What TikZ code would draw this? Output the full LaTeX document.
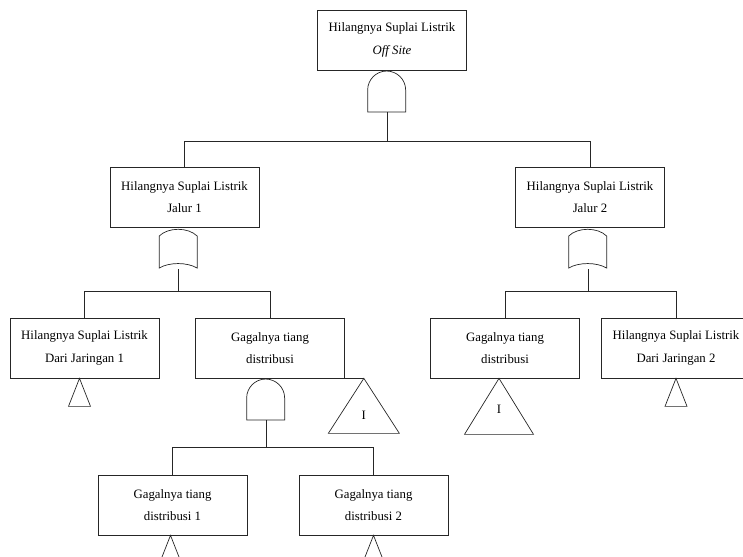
\documentclass[tikz,border=0pt]{standalone}
\usepackage{fontspec}
\setmainfont{Liberation Serif}

\newcommand{\andshape}[1]{\draw[shift={(#1.south west)}] (0,0) -- (0,22) arc[start angle=180,end angle=0,radius=19] -- (38,0) -- cycle;}
\newcommand{\orshape}[1]{\draw[shift={(#1.south west)}] (0,1) -- (0,33) .. controls (9,42) and (29,42) .. (38,33) -- (38,1) .. controls (28,7) and (10,7) .. (0,1) -- cycle;}
\newcommand{\smalltri}[1]{\draw (#1) -- ++(-11,-28) -- ++(22,0) -- cycle;}

\begin{document}
\begin{tikzpicture}[x=1pt,y=1pt,line width=0.7pt,color=black!85,
  event/.style={draw, text=black, minimum width=149pt, minimum height=60pt, inner sep=0pt, align=center, font=\fontsize{12.8}{22.5}\selectfont, execute at begin node={\rule{0pt}{14pt}}},
  gatespot/.style={minimum width=38pt, minimum height=41pt, inner sep=0pt, anchor=north},
  transfer/.style={text=black, inner sep=0pt, font=\fontsize{12.8}{15}\selectfont}]
  \useasboundingbox (0,0) rectangle (743,-556);

  \node (top) [event] at (392,-40) {Hilangnya Suplai Listrik\\\textit{Off Site}};
  \node (j1) [event, node distance=157pt, below of=top, xshift=-207.5pt] {Hilangnya Suplai Listrik\\Jalur 1};
  \node (j2) [event, node distance=157pt, below of=top, xshift=198pt] {Hilangnya Suplai Listrik\\Jalur 2};
  \node (d1) [event, node distance=151pt, below of=j1, xshift=-100pt] {Hilangnya Suplai Listrik\\Dari Jaringan 1};
  \node (t1) [event, node distance=151pt, below of=j1, xshift=85.5pt] {Gagalnya tiang\\distribusi};
  \node (t2) [event, node distance=151pt, below of=j2, xshift=-85pt] {Gagalnya tiang\\distribusi};
  \node (d2) [event, node distance=151pt, below of=j2, xshift=86pt] {Hilangnya Suplai Listrik\\Dari Jaringan 2};
  \node (e1) [event, node distance=157pt, below of=t1, xshift=-97.5pt] {Gagalnya tiang\\distribusi 1};
  \node (e2) [event, node distance=157pt, below of=t1, xshift=103.5pt] {Gagalnya tiang\\distribusi 2};

  % gates
  \node (g0) [gatespot, xshift=-5pt] at (top.south) {};
  \node (g1) [gatespot, xshift=-6pt] at (j1.south) {};
  \node (g2) [gatespot, xshift=-2pt] at (j2.south) {};
  \node (g3) [gatespot, xshift=-4pt] at (t1.south) {};
  \andshape{g0}
  \orshape{g1}
  \orshape{g2}
  \andshape{g3}

  \coordinate (b0) at ([yshift=-29pt]g0.south);
  \coordinate (b1) at ([yshift=-22pt]g1.south);
  \coordinate (b2) at ([yshift=-22pt]g2.south);
  \coordinate (b3) at ([yshift=-27pt]g3.south);
  \draw (g0.south) -- (b0) -| (j1.north);
  \draw (b0) -| (j2.north);
  \draw (g1.south) -- (b1) -| (d1.north);
  \draw (b1) -| (t1.north);
  \draw (g2.south) -- (b2) -| (t2.north);
  \draw (b2) -| (d2.north);
  \draw (g3.south) -- (b3) -| (e1.north);
  \draw (b3) -| (e2.north);

  % triangles
  \smalltri{[xshift=-5pt]d1.south}
  \smalltri{d2.south}
  \smalltri{[xshift=-2pt]e1.south}
  \smalltri{e2.south}
  \coordinate (a1) at ([xshift=19pt]t1.south east);
  \draw (t1.south east) -- (a1);
  \draw (a1) -- ++(-35.5,-55) -- ++(71,0) -- cycle;
  \node (i1) [transfer] at ([yshift=-37pt]a1) {I};
  \coordinate (a2) at ([xshift=-6pt]t2.south);
  \draw (a2) -- ++(-34.5,-56) -- ++(69,0) -- cycle;
  \node (i2) [transfer] at ([yshift=-31pt]a2) {I};
\end{tikzpicture}
\end{document}
